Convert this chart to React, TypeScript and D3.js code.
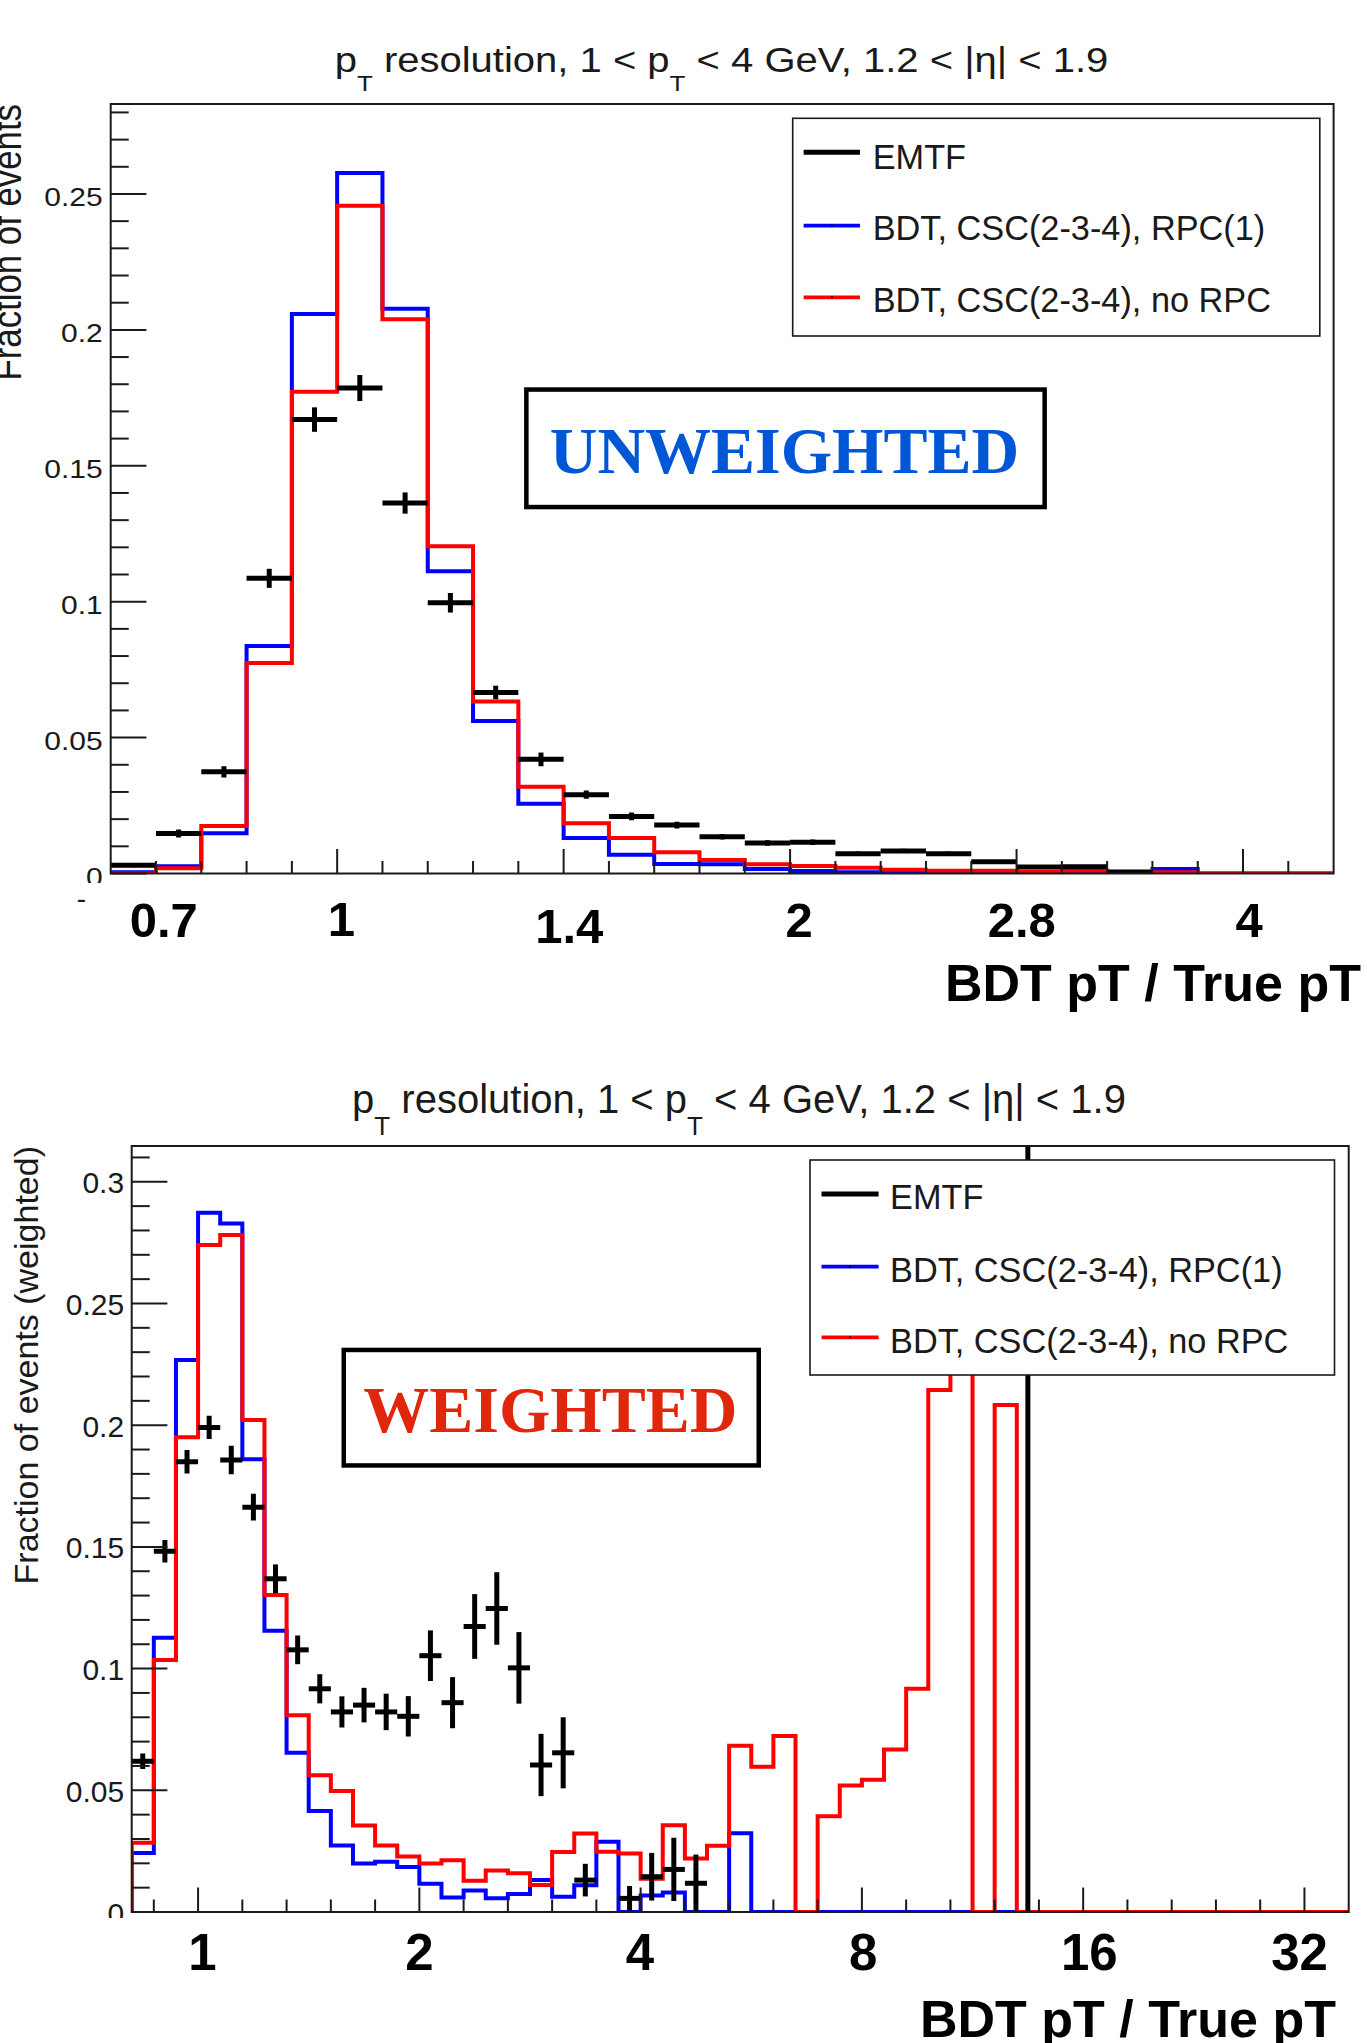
import React from "react";
import * as d3 from "d3";

// ---------------- data ----------------
const legendLabels = ["EMTF", "BDT, CSC(2-3-4), RPC(1)", "BDT, CSC(2-3-4), no RPC"];
const seriesColors = ["#000000", "#0000ff", "#ff0000"];

// Top panel (unweighted): bins of 0.1 in log2(BDT pT / True pT), 2^-0.5 .. 2^2.2
const topLog2Range = [-0.5, 2.2];
const topBlue = [0.0005, 0.0027, 0.0148, 0.0837, 0.2058, 0.2577, 0.2078, 0.1112, 0.0561, 0.0257, 0.0131, 0.0069, 0.0035, 0.0034, 0.0017, 0.0009, 0.0005, 0.0003, 0.0002, 0.0002, 0.0002, 0.0001, 0.0003, 0.0017, 0, 0, 0];
const topRed = [0, 0.0019, 0.0175, 0.0774, 0.1772, 0.2457, 0.2039, 0.1204, 0.0633, 0.0319, 0.0185, 0.0131, 0.0078, 0.005, 0.0034, 0.0028, 0.0021, 0.0014, 0.001, 0.001, 0.0006, 0.001, 0.0008, 0.0005, 0, 0, 0];
const topEmtf = [0.003, 0.0147, 0.0374, 0.1086, 0.167, 0.1786, 0.1363, 0.0996, 0.0666, 0.042, 0.029, 0.021, 0.0178, 0.0135, 0.0112, 0.0115, 0.0073, 0.0083, 0.0073, 0.0043, 0.0024, 0.0025, 0.0004, null, null, null, null];
const topEmtfErr = [0.0007, 0.0015, 0.0021, 0.0035, 0.0045, 0.0048, 0.0039, 0.0036, 0.0025, 0.0025, 0.0015, 0.0014, 0.0012, 0.001, 0.001, 0.001, 0.0008, 0.0008, 0.0008, 0.0006, 0.0005, 0.0005, 0.0002, 0, 0, 0, 0];
const topYTicks = [0, 0.05, 0.1, 0.15, 0.2, 0.25];
const topXLabels = ["0.7", "1", "1.4", "2", "2.8", "4"];
const topXLabelAt = [0.767, 1.0066, 1.4264, 2.0277, 2.851, 4.0373];

// Bottom panel (weighted): bins of 0.1 in log2, 2^-0.3 .. 2^5.2
const botLog2Range = [-0.3, 5.2];
const botBlue = [0.0242, 0.1127, 0.2268, 0.2873, 0.2829, 0.186, 0.1155, 0.0654, 0.0415, 0.0273, 0.0199, 0.0206, 0.0185, 0.0116, 0.006, 0.0088, 0.0057, 0.0074, 0.0131, 0.0063, 0.011, 0.0289, 0, 0.0068, 0.008, 0, 0, 0.0324, 0, 0, 0, 0, 0, 0, 0, 0, 0, 0, 0, 0, 0, 0, 0, 0, 0, 0, 0, 0, 0, 0, 0, 0, 0, 0, 0];
const botRed = [0.0284, 0.1035, 0.195, 0.274, 0.2781, 0.2021, 0.1302, 0.0808, 0.0562, 0.0497, 0.0355, 0.0273, 0.0228, 0.0199, 0.0213, 0.0128, 0.017, 0.0159, 0.0111, 0.0247, 0.0322, 0.0248, 0.024, 0.0137, 0.0356, 0.022, 0.0272, 0.0683, 0.0597, 0.0723, 0, 0.0393, 0.052, 0.0543, 0.0668, 0.0917, 0.2145, 0.265, 0, 0.2083, 0, 0, 0, 0, 0, 0, 0, 0, 0, 0, 0, 0, 0, 0, 0];
const botEmtf = [0.0619, 0.1482, 0.185, 0.1991, 0.1857, 0.1663, 0.1369, 0.1077, 0.0917, 0.0822, 0.085, 0.0822, 0.0804, 0.1053, 0.086, 0.1173, 0.1247, 0.1003, 0.0604, 0.0654, 0.0131, null, 0.0056, 0.0145, 0.0175, 0.0118, null, null, null, null, null, null, null, null, null, null, null, null, null, null, 0.5, null, null, null, null, null, null, null, null, null, null, null, null, null, null];
const botEmtfErr = [0.0032, 0.0046, 0.0048, 0.0048, 0.0059, 0.0055, 0.0059, 0.0059, 0.006, 0.0064, 0.0071, 0.0075, 0.0083, 0.0104, 0.0105, 0.0133, 0.0149, 0.0147, 0.0128, 0.0146, 0.0067, 0, 0.0051, 0.0098, 0.013, 0.0118, 0, 0, 0, 0, 0, 0, 0, 0, 0, 0, 0, 0, 0, 0, 0.5, 0, 0, 0, 0, 0, 0, 0, 0, 0, 0, 0, 0, 0, 0];
const botYTicks = [0, 0.05, 0.1, 0.15, 0.2, 0.25, 0.3];
const botXLabels = ["1", "2", "4", "8", "16", "32"];
const botXLabelAt = [1.0136, 2, 3.99, 8.03, 16.31, 31.52];

const SANS = "'Liberation Sans', Arial, Helvetica, sans-serif";
const SERIF = "'Liberation Serif', 'Times New Roman', serif";
const INK = "#1a1a1a";

function Title({ cx, y, sy }: any) {
  return (
    <text
      transform={`translate(${cx},${y}) scale(1,${sy})`}
      textAnchor="middle"
      fontFamily={SANS}
      fontSize={40}
      fill={INK}
      style={{ whiteSpace: "pre" }}
    >
      <tspan>p</tspan>
      <tspan fontSize={26} dy={22}>T</tspan>
      <tspan dy={-22}>{" resolution, 1 < p"}</tspan>
      <tspan fontSize={26} dy={22}>T</tspan>
      <tspan dy={-22}>{" < 4 GeV, 1.2 < |η| < 1.9"}</tspan>
    </text>
  );
}

function Panel(p: any) {
  const id = p.id;
  const x = d3.scaleLog().base(2).domain([2 ** p.log2Range[0], 2 ** p.log2Range[1]]).range([p.x0, p.x1]);
  const y = d3.scaleLinear().domain([0, p.yMax]).range([p.y1, p.y0]);
  const nb = p.blue.length;
  const edges = d3.range(nb + 1).map((k) => 2 ** (p.log2Range[0] + 0.1 * k));
  const line = d3.line();

  const histPath = (vals: number[]) => {
    const pts: [number, number][] = [[x(edges[0]), y(0)]];
    vals.forEach((v, i) => {
      pts.push([x(edges[i]), y(v)]);
      pts.push([x(edges[i + 1]), y(v)]);
    });
    pts.push([x(edges[nb]), y(0)]);
    return line(pts) as string;
  };

  // y ticks
  const yMinor = d3.range(0, Math.round(p.yMinorMax * 100) + 1).map((i) => i / 100);
  // x ticks (every tickStep bins)
  const xTicks: { v: number; major: boolean }[] = [];
  for (let k = 1; k < nb; k++) {
    if ((k - p.tickStart) % p.tickStep !== 0) continue;
    xTicks.push({ v: edges[k], major: (k - p.majorStart) % p.majorEvery === 0 });
  }

  const lg = p.legend;

  return (
    <g>
      <defs>
        <clipPath id={`clip-${id}`}>
          <rect x={p.x0} y={p.y0} width={p.x1 - p.x0} height={p.y1 - p.y0} />
        </clipPath>
      </defs>

      <Title cx={p.titleX} y={p.titleY} sy={p.textSy} />

      {/* y title */}
      <text
        transform={`translate(${p.yTitleX},${p.y0}) scale(1,${p.textSy}) rotate(-90)`}
        textAnchor="end"
        fontFamily={SANS}
        fontSize={p.yTitleSize}
        fill={INK}
      >
        {p.yTitle}
      </text>

      {/* histograms */}
      <g clipPath={`url(#clip-${id})`} fill="none" strokeWidth={4}>
        <path d={histPath(p.blue)} stroke={seriesColors[1]} />
        <path d={histPath(p.red)} stroke={seriesColors[2]} />
        {p.emtf.map((v: number | null, i: number) => {
          if (v === null) return null;
          const xa = x(edges[i]);
          const xb = x(edges[i + 1]);
          const xc = (xa + xb) / 2;
          const e = p.emtfErr[i];
          return (
            <g key={i} stroke={seriesColors[0]} strokeWidth={5}>
              <line x1={xa} x2={xb} y1={y(v)} y2={y(v)} />
              {e > 0 && <line x1={xc} x2={xc} y1={y(v - e)} y2={y(v + e)} />}
            </g>
          );
        })}
      </g>

      {/* frame */}
      <rect x={p.x0} y={p.y0} width={p.x1 - p.x0} height={p.y1 - p.y0} fill="none" stroke={INK} strokeWidth={2} />

      {/* y axis ticks */}
      <g stroke={INK} strokeWidth={2}>
        {yMinor.map((v) => {
          const major = p.yTicks.some((t: number) => Math.abs(t - v) < 1e-9);
          return <line key={v} x1={p.x0} x2={p.x0 + (major ? 35.7 : 18)} y1={y(v)} y2={y(v)} />;
        })}
        {xTicks.map((t, i) => (
          <line key={i} x1={x(t.v)} x2={x(t.v)} y1={p.y1} y2={p.y1 - (t.major ? 24.5 : 12.5)} />
        ))}
      </g>

      {/* y tick labels */}
      {p.yTicks.map((t: number) => (
        <text
          key={t}
          transform={`translate(${p.yLabelRight},${y(t) + p.yLabelDy}) scale(1,${p.textSy})`}
          textAnchor="end"
          fontFamily={SANS}
          fontSize={30}
          fill={INK}
        >
          {String(t)}
        </text>
      ))}
      {/* the zero label is cut by the pasted label strip */}
      <rect x={p.x0 - 50} y={p.zeroCut} width={49} height={14} fill="#fff" />

      {/* bold pasted x labels */}
      {p.xLabels.map((s: string, i: number) => (
        <text
          key={s}
          x={x(p.xLabelAt[i])}
          y={p.xLabelY[i]}
          textAnchor="middle"
          fontFamily={SANS}
          fontWeight="bold"
          fontSize={p.xLabelSize}
          fill="#000"
        >
          {s}
        </text>
      ))}
      <text
        x={p.xTitleRight}
        y={p.xTitleY}
        textAnchor="end"
        fontFamily={SANS}
        fontWeight="bold"
        fontSize={52}
        fill="#000"
      >
        BDT pT / True pT
      </text>

      {/* legend */}
      <rect x={lg.x0} y={lg.y0} width={lg.x1 - lg.x0} height={lg.y1 - lg.y0} fill="#fff" stroke={INK} strokeWidth={1.6} />
      {legendLabels.map((s, i) => (
        <g key={s}>
          <line
            x1={lg.lx0}
            x2={lg.lx1}
            y1={lg.lineY[i]}
            y2={lg.lineY[i]}
            stroke={seriesColors[i]}
            strokeWidth={i === 0 ? 5 : 3.8}
          />
          {i > 0 && <rect x={(lg.lx0 + lg.lx1) / 2 - 1} y={lg.lineY[i] - 1} width={2} height={2} fill="#000" />}
          <text x={lg.tx} y={lg.textY[i]} fontFamily={SANS} fontSize={34.3} fill={INK}>
            {s}
          </text>
        </g>
      ))}

      {/* badge */}
      <rect
        x={p.badge.x0 + 2.25}
        y={p.badge.y0 + 2.25}
        width={p.badge.x1 - p.badge.x0 - 4.5}
        height={p.badge.y1 - p.badge.y0 - 4.5}
        fill="#fff"
        stroke="#000"
        strokeWidth={4.5}
      />
      <text
        x={(p.badge.tx0 + p.badge.tx1) / 2}
        y={p.badge.ty}
        textAnchor="middle"
        fontFamily={SERIF}
        fontWeight="bold"
        fontSize={66}
        fill={p.badge.color}
      >
        {p.badge.text}
      </text>
    </g>
  );
}

export default function App() {
  return (
    <svg
      width={1367}
      height={2043}
      viewBox="0 0 1367 2043"
      style={{ position: "absolute", left: 0, top: 0, background: "#fff" }}
    >
      <rect x={0} y={0} width={1367} height={2043} fill="#fff" />
      <Panel
        id="top"
        x0={110.7}
        x1={1333.6}
        y0={104}
        y1={873.5}
        yMax={0.2831}
        log2Range={topLog2Range}
        blue={topBlue}
        red={topRed}
        emtf={topEmtf}
        emtfErr={topEmtfErr}
        yTicks={topYTicks}
        yMinorMax={0.28}
        tickStart={0}
        tickStep={1}
        majorStart={0}
        majorEvery={5}
        textSy={0.87}
        titleX={721.5}
        titleY={71.7}
        yTitle="Fraction of events"
        yTitleSize={40}
        yTitleX={21}
        yLabelRight={102.7}
        yLabelDy={12}
        zeroCut={883}
        xLabels={topXLabels}
        xLabelAt={topXLabelAt}
        xLabelY={[936.5, 936, 943, 937, 937, 937]}
        xLabelSize={49}
        xTitleRight={1361}
        xTitleY={1001}
        legend={{
          x0: 792.7, x1: 1319.8, y0: 118.3, y1: 336,
          lx0: 803.6, lx1: 860, tx: 872.7,
          lineY: [152.3, 225.7, 297.3],
          textY: [169, 240, 311.7],
        }}
        badge={{
          x0: 524.1, x1: 1046.9, y0: 387.3, y1: 509.3,
          tx0: 550.3, tx1: 1018.6, ty: 472.7,
          text: "UNWEIGHTED", color: "#0057d6",
        }}
      />
      {/* stray remnant of the original axis label */}
      <text x={81.5} y={908} textAnchor="middle" fontFamily={SANS} fontSize={28} fill={INK}>-</text>

      <Panel
        id="bot"
        x0={131.7}
        x1={1348.7}
        y0={1146}
        y1={1912}
        yMax={0.3147}
        log2Range={botLog2Range}
        blue={botBlue}
        red={botRed}
        emtf={botEmtf}
        emtfErr={botEmtfErr}
        yTicks={botYTicks}
        yMinorMax={0.31}
        tickStart={1}
        tickStep={2}
        majorStart={3}
        majorEvery={10}
        textSy={1}
        titleX={739}
        titleY={1113.3}
        yTitle="Fraction of events (weighted)"
        yTitleSize={34}
        yTitleX={37.5}
        yLabelRight={124.1}
        yLabelDy={11.6}
        zeroCut={1918}
        xLabels={botXLabels}
        xLabelAt={botXLabelAt}
        xLabelY={[1970, 1970, 1970, 1970, 1970, 1970]}
        xLabelSize={51}
        xTitleRight={1336}
        xTitleY={2037}
        legend={{
          x0: 810, x1: 1334.5, y0: 1160, y1: 1375,
          lx0: 821.5, lx1: 878.6, tx: 890,
          lineY: [1194, 1266.7, 1337.3],
          textY: [1209.3, 1281.7, 1353],
        }}
        badge={{
          x0: 341.5, x1: 761, y0: 1347.7, y1: 1467.7,
          tx0: 366, tx1: 734.6, ty: 1431.7,
          text: "WEIGHTED", color: "#e0260b",
        }}
      />
    </svg>
  );
}
